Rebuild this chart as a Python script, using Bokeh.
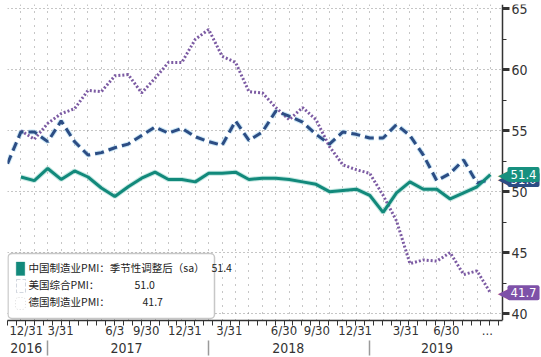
import numpy as np
from bokeh.plotting import figure
from bokeh.models import (Range1d, FixedTicker, LinearAxis, Label, BoxAnnotation, Grid)
from bokeh.embed import file_html
from bokeh.resources import INLINE

# ---------------- data ----------------
months = ["2016-09", "2016-10", "2016-11", "2016-12",
          "2017-01", "2017-02", "2017-03", "2017-04", "2017-05", "2017-06",
          "2017-07", "2017-08", "2017-09", "2017-10", "2017-11", "2017-12",
          "2018-01", "2018-02", "2018-03", "2018-04", "2018-05", "2018-06",
          "2018-07", "2018-08", "2018-09", "2018-10", "2018-11", "2018-12",
          "2019-01", "2019-02", "2019-03", "2019-04", "2019-05", "2019-06",
          "2019-07", "2019-08", "2019-09"]

# China manufacturing PMI (sa), from 2016-10
china = [51.2, 50.9, 51.9, 51.0, 51.7, 51.2, 50.3, 49.6, 50.4, 51.1, 51.6, 51.0,
         51.0, 50.8, 51.5, 51.5, 51.6, 51.0, 51.1, 51.1, 51.0, 50.8, 50.6, 50.0,
         50.1, 50.2, 49.7, 48.3, 49.9, 50.8, 50.2, 50.2, 49.4, 49.9, 50.4, 51.4]
# US composite PMI, from 2016-09
us = [52.3, 54.9, 54.9, 54.1, 55.8, 54.1, 53.0, 53.2, 53.6, 53.9, 54.6, 55.3,
      54.8, 55.2, 54.5, 54.1, 53.8, 55.8, 54.2, 54.9, 56.6, 56.2, 55.7, 54.7,
      53.9, 54.9, 54.7, 54.4, 54.4, 55.5, 54.6, 53.0, 50.9, 51.5, 52.6, 50.7, 51.0]
# Germany manufacturing PMI, from 2016-10
germany = [55.0, 54.3, 55.6, 56.4, 56.8, 58.3, 58.2, 59.5, 59.6, 58.1, 59.3, 60.6,
           60.6, 62.5, 63.3, 61.1, 60.6, 58.2, 58.1, 56.9, 55.9, 56.9, 55.9, 53.7,
           52.2, 51.8, 51.5, 49.7, 47.6, 44.1, 44.4, 44.3, 45.0, 43.2, 43.5, 41.7]

series_names = ["中国制造业PMI：季节性调整后（sa）", "美国综合PMI：", "德国制造业PMI："]
last_values = ["51.4", "51.0", "41.7"]

month_tick_labels = ["12/31", "3/31", "6/3", "9/30", "12/31", "3/31", "6/30",
                     "9/30", "12/31", "3/31", "6/30", "..."]
month_tick_pos = [1.40, 3.96, 7.99, 10.34, 13.22, 16.54, 20.61, 23.06, 25.92,
                  29.69, 32.71, 35.77]
year_labels = ["2016", "2017", "2018", "2019"]
year_label_pos = [1.40, 8.87, 20.93, 32.02]
year_breaks = [3, 15, 27]

y_major = [40, 45, 50, 55, 60, 65]
y_minor = [42.5, 47.5, 52.5, 57.5, 62.5]

# ---------------- layout constants ----------------
W, H = 541, 357
BORDER_L, BORDER_R, BORDER_T, BORDER_B = 7, 0, 4, 37
AXIS_PX = 502                      # canvas x of the value axis
FRAME_W = W - BORDER_L - BORDER_R
FRAME_H = H - BORDER_T - BORDER_B
X0, X_AXIS = 0, 36.9
X1 = X0 + (X_AXIS - X0) * FRAME_W / (AXIS_PX - BORDER_L)
Y0, Y1 = 39.43, 65.35

def px2k(px):   # canvas x pixel -> data x
    return X0 + (px - BORDER_L) / FRAME_W * (X1 - X0)

def py2v(py):   # canvas y pixel -> data y
    return Y1 - (py - BORDER_T) / FRAME_H * (Y1 - Y0)

idx = list(range(len(months)))
x_us = idx
x_cn = idx[1:]
x_de = idx[1:]

TEAL = "#12897b"
NAVY = "#2c4d84"
PURPLE = "#7c5ba3"
AXC = "#333333"
NARROW = "DejaVu Sans Condensed, Roboto, sans-serif"
CJK = "Noto Sans CJK SC"

p = figure(width=W, height=H, x_range=Range1d(X0, X1), y_range=Range1d(Y0, Y1),
           output_backend="svg", toolbar_location=None,
           x_axis_type=None, y_axis_type=None,
           min_border_left=BORDER_L, min_border_right=BORDER_R,
           min_border_top=BORDER_T, min_border_bottom=BORDER_B,
           outline_line_color=None,
           background_fill_color="white", border_fill_color="white")

# grids
p.add_layout(Grid(dimension=0, ticker=FixedTicker(ticks=idx),
                  grid_line_color="#8c8c8c", grid_line_dash="1 6", grid_line_width=1))
p.add_layout(Grid(dimension=1, ticker=FixedTicker(ticks=y_major),
                  grid_line_color="#8c8c8c", grid_line_dash="1 3", grid_line_width=1))
# blank strip right of the value axis (hides grid there)
p.add_layout(BoxAnnotation(left=X_AXIS, right=X1 + 1, fill_color="white", fill_alpha=1.0,
                           line_alpha=0.0, level="underlay"))

# value axis on the right, drawn at the last month position
yax = LinearAxis(ticker=FixedTicker(ticks=y_major, minor_ticks=y_minor),
                 fixed_location=X_AXIS,
                 axis_line_color=AXC, axis_line_width=1.5,
                 major_tick_out=7, major_tick_in=0, major_tick_line_width=3,
                 major_tick_line_color=AXC,
                 minor_tick_out=4, minor_tick_in=0, minor_tick_line_color=AXC,
                 major_label_standoff=2, major_label_text_font=NARROW,
                 major_label_text_font_size="14px", major_label_text_color=AXC)
p.add_layout(yax, "right")

# month axis
minor_x = [round(float(v), 3) for v in np.arange(0, X_AXIS, 0.665)]
xax = LinearAxis(ticker=FixedTicker(ticks=month_tick_pos, minor_ticks=minor_x),
                 major_label_overrides={k: v for k, v in zip(month_tick_pos, month_tick_labels)},
                 bounds=(X0, X_AXIS),
                 axis_line_color=AXC, axis_line_width=1.5,
                 major_tick_out=0, major_tick_in=0, major_tick_line_color=None,
                 minor_tick_out=5, minor_tick_in=0, minor_tick_line_color=AXC,
                 major_label_standoff=-3, major_label_text_font=NARROW,
                 major_label_text_font_size="13px", major_label_text_color=AXC)
p.add_layout(xax, "below")

# year axis
yrax = LinearAxis(ticker=FixedTicker(ticks=year_label_pos, minor_ticks=year_breaks),
                  major_label_overrides={k: v for k, v in zip(year_label_pos, year_labels)},
                  axis_line_color=None, major_tick_out=0, major_tick_in=0,
                  major_tick_line_color=None, minor_tick_out=15, minor_tick_in=0,
                  minor_tick_line_color="#9a9a9a", minor_tick_line_width=1.5,
                  major_label_standoff=-13, major_label_text_font=NARROW,
                  major_label_text_font_size="14px", major_label_text_color=AXC)
p.add_layout(yrax, "below")

# lines (with light halos)
p.line(x_cn, china, line_color="#9fd9cf", line_width=5, line_alpha=0.6)
p.line(x_us, us, line_color="#a9d6ee", line_width=5, line_dash="9 5", line_alpha=0.6)
p.line(x_de, germany, line_color=PURPLE, line_width=3, line_dash="2 2")
p.line(x_us, us, line_color=NAVY, line_width=3, line_dash="9 5")
p.line(x_cn, china, line_color=TEAL, line_width=3)

# legend box (positions in canvas pixels, converted through the scales)
p.add_layout(BoxAnnotation(left=px2k(7.5), right=px2k(214), bottom=py2v(318), top=py2v(253),
                           fill_color="white", fill_alpha=1.0,
                           line_color="#444444", line_width=1.5, border_radius=4))
p.add_layout(BoxAnnotation(left=px2k(15.7), right=px2k(24.3), bottom=py2v(275), top=py2v(261.5),
                           fill_color=TEAL, fill_alpha=1.0, line_color=TEAL))
p.add_layout(BoxAnnotation(left=px2k(16), right=px2k(25), bottom=py2v(292), top=py2v(279),
                           fill_alpha=0.0, line_color="#6a7a94", line_width=1,
                           line_dash="4 2"))
p.add_layout(BoxAnnotation(left=px2k(15), right=px2k(25), bottom=py2v(309), top=py2v(297),
                           fill_alpha=0.0, line_color="#8a8a8a", line_width=1,
                           line_dash="1 2", border_radius=3))
row_py = [267, 284, 301]
val_px = [211, 134, 142]
for name, v, ry, vx in zip(series_names, last_values, row_py, val_px):
    p.add_layout(Label(x=px2k(28), y=py2v(ry), text=name, text_font=CJK,
                       text_font_size="10.5px", text_baseline="middle",
                       text_color="#222222"))
    p.add_layout(Label(x=px2k(vx), y=py2v(ry), text=v, text_font=CJK,
                       text_font_size="10.5px", text_baseline="middle",
                       text_color="#222222"))

# value tags right of the axis
for val, txt, col in [(us[-1], last_values[1], NAVY),
                      (china[-1], last_values[0], "#17907f"),
                      (germany[-1], last_values[2], "#7e51a8")]:
    p.add_layout(Label(x=px2k(508), y=val, text="◀", text_font="DejaVu Sans",
                       text_font_size="14px", text_align="right",
                       text_baseline="middle", text_color=col))
    p.add_layout(Label(x=px2k(507), y=val, text=txt, text_font=NARROW,
                       text_font_size="13px", text_align="left",
                       text_baseline="middle", text_color="white",
                       background_fill_color=col, background_fill_alpha=1.0,
                       padding=3, border_radius=2))

open("out.html", "w").write(file_html(p, INLINE))
